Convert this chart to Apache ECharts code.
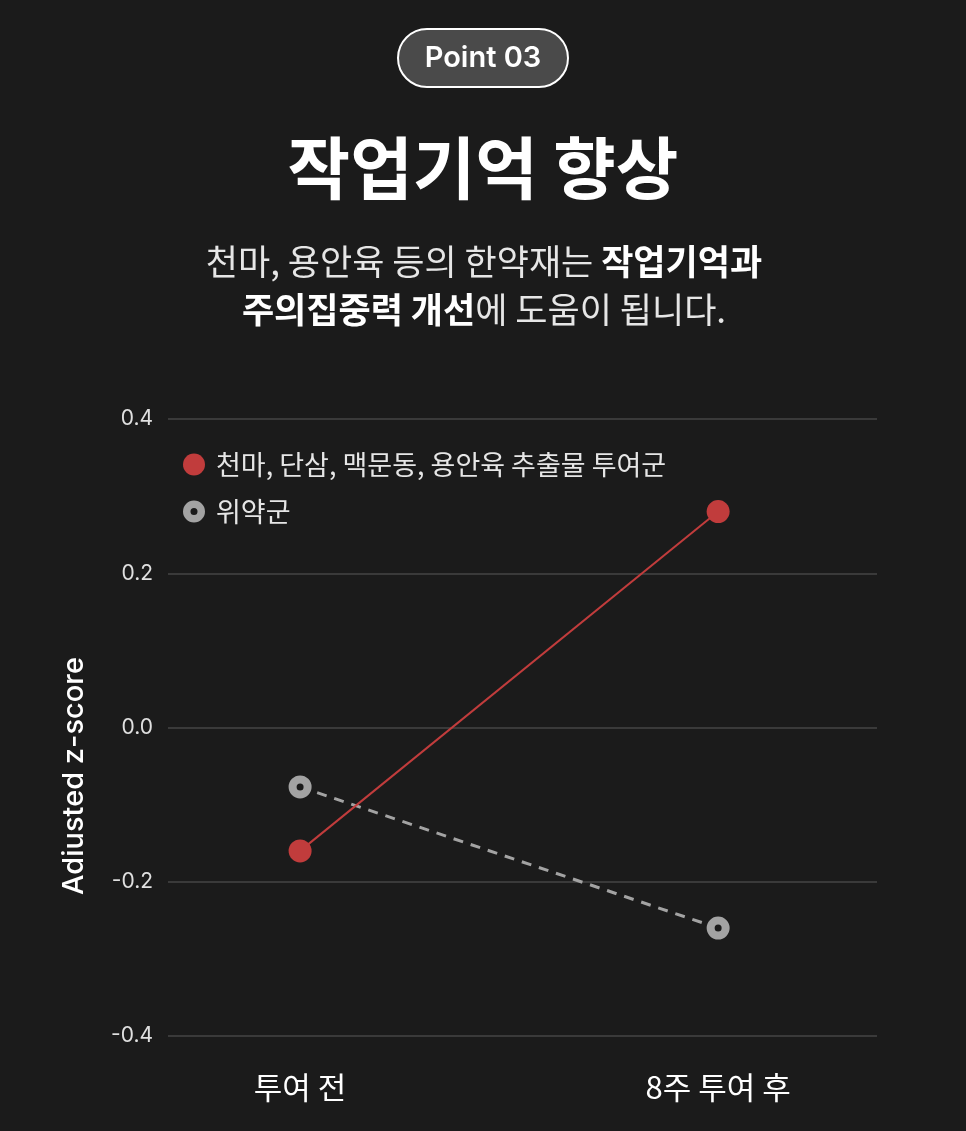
<!DOCTYPE html>
<html>
<head>
<meta charset="utf-8">
<script src="https://cdn.jsdelivr.net/npm/echarts@6/dist/echarts.min.js"></script>
<style>
  html, body { margin: 0; padding: 0; background: #1b1b1b; }
  #chart { width: 966px; height: 1131px; }
</style>
</head>
<body>
<div id="chart"></div>
<script>
var categories = ['투여 전', '8주 투여 후'];
var seriesNames = ['천마, 단삼, 맥문동, 용안육 추출물 투여군', '위약군'];
var treatValues = [-0.16, 0.28];
var placeboValues = [-0.077, -0.26];

var FONT = '"Noto Sans CJK KR", "Noto Sans", sans-serif';
var LATIN = 'Inter, "Noto Sans", sans-serif';
var BG = '#1b1b1b';
var RED = '#c13c3c';
var GRAY = '#a3a3a3';
// ring icon for the legend (outer circle, hole in the middle)
var ringPath = 'path://M0,-10A10,10 0 1,1 0,10A10,10 0 1,1 0,-10Z M0,-3.2A3.2,3.2 0 1,0 0,3.2A3.2,3.2 0 1,0 0,-3.2Z';

function pairs(vals) {
	return vals.map(function (v, i) { return [i, v]; });
}

var myChart = echarts.init(document.getElementById('chart'));

var option = {
	backgroundColor: BG,
	textStyle: { fontFamily: FONT },
	title: [{
		text: 'Point 03',
		left: 'center',
		top: 29,
		padding: [13, 27, 13, 27],
		backgroundColor: '#4a4a4a',
		borderColor: '#ffffff',
		borderWidth: 2,
		borderRadius: 30,
		textStyle: { color: '#ffffff', fontSize: 29, fontWeight: 600, fontFamily: LATIN, lineHeight: 32 }
	}, {
		text: '작업기억 향상',
		left: 'center',
		top: 118,
		textStyle: { color: '#ffffff', fontSize: 68, fontWeight: 'bold', fontFamily: FONT, lineHeight: 90 }
	}],
	legend: {
		orient: 'vertical',
		left: 178,
		top: 446,
		itemWidth: 22,
		itemHeight: 22,
		itemGap: 20,
		textStyle: { color: '#e6e6e6', fontSize: 27, fontFamily: FONT, padding: [0, 0, 0, 6] },
		data: [
			{ name: seriesNames[0], icon: 'circle' },
			{ name: seriesNames[1], icon: ringPath, itemStyle: { color: GRAY, borderWidth: 0 } }
		]
	},
	grid: { left: 168, right: 89, top: 419, bottom: 95, containLabel: false },
	xAxis: {
		type: 'value',
		min: -0.316,
		max: 1.38,
		splitLine: { show: false },
		axisLine: { show: false },
		axisTick: { show: false },
		axisLabel: {
			customValues: [0, 1],
			margin: 36,
			color: '#ffffff',
			fontSize: 31,
			fontFamily: FONT,
			formatter: function (v) { return categories[Math.round(v)]; }
		}
	},
	yAxis: {
		type: 'value',
		min: -0.4,
		max: 0.4,
		interval: 0.2,
		axisLine: { show: false },
		axisTick: { show: false },
		splitLine: { lineStyle: { color: '#3a3a3a', width: 2 } },
		axisLabel: {
			margin: 15,
			color: '#e0e0e0',
			fontSize: 21,
			fontFamily: LATIN,
			formatter: function (v) { return v.toFixed(1); }
		}
	},
	graphic: [{
		type: 'text',
		x: 484,
		y: 286,
		style: {
			text: '{n|천마, 용안육 등의 한약재는 }{b|작업기억과}\n{b|주의집중력 개선}{n|에 도움이 됩니다.}',
			align: 'center',
			verticalAlign: 'middle',
			rich: {
				n: { fill: '#e6e6e6', fontSize: 35, fontWeight: 'normal', fontFamily: FONT, lineHeight: 48 },
				b: { fill: '#ffffff', fontSize: 35, fontWeight: 'bold', fontFamily: FONT, lineHeight: 48 }
			}
		}
	}, {
		type: 'text',
		x: 74,
		y: 776,
		rotation: Math.PI / 2,
		style: {
			text: 'Adiusted z-score',
			fill: '#ffffff',
			font: '500 29px Inter, "Noto Sans", sans-serif',
			align: 'center',
			verticalAlign: 'middle'
		}
	}],
	series: [{
		name: seriesNames[1],
		type: 'line',
		data: pairs(placeboValues),
		symbol: 'circle',
		symbolSize: 15,
		itemStyle: { color: BG, borderColor: GRAY, borderWidth: 8 },
		lineStyle: { color: GRAY, width: 3, type: [10, 8] },
		z: 2
	}, {
		name: seriesNames[0],
		type: 'line',
		data: pairs(treatValues),
		symbol: 'circle',
		symbolSize: 23,
		itemStyle: { color: RED },
		lineStyle: { color: RED, width: 2 },
		z: 3
	}]
};

myChart.setOption(option);
</script>
</body>
</html>
